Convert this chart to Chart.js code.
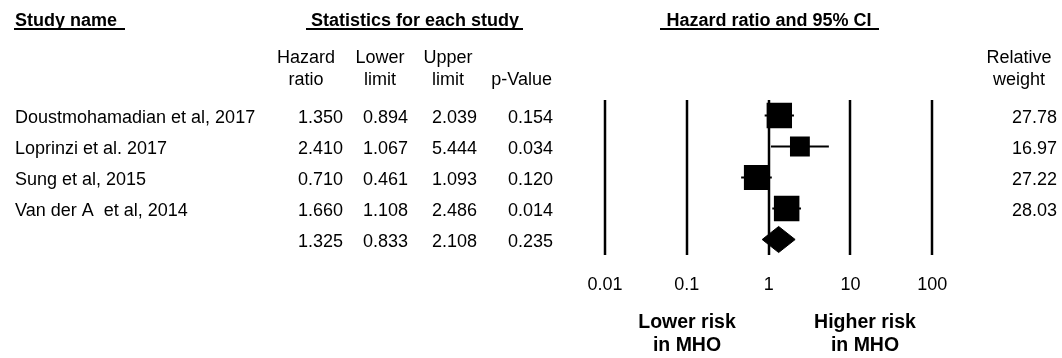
<!DOCTYPE html>
<html>
<head>
<meta charset="utf-8">
<title>Hazard ratio forest plot</title>
<script src="https://cdn.jsdelivr.net/npm/chart.js@4.4.1/dist/chart.umd.min.js"></script>
<style>
  html, body { margin: 0; padding: 0; background: #fff; }
  #forest { display: block; }
</style>
</head>
<body>
<canvas id="forest" width="1062" height="358"></canvas>
<script>
// study level results
const studyNames = [
  'Doustmohamadian et al, 2017',
  'Loprinzi et al. 2017',
  'Sung et al, 2015',
  'Van der A  et al, 2014'
];
const hazardRatio = [1.350, 2.410, 0.710, 1.660];
const lowerLimit = [0.894, 1.067, 0.461, 1.108];
const upperLimit = [2.039, 5.444, 1.093, 2.486];
const pValue = [0.154, 0.034, 0.120, 0.014];
const relativeWeight = [27.78, 16.97, 27.22, 28.03];

// pooled estimate: hazard ratio, lower, upper, p
const pooledStats = [1.325, 0.833, 2.108, 0.235];

const xTicks = [0.01, 0.1, 1, 10, 100];
const xTickLabels = ['0.01', '0.1', '1', '10', '100'];

const FONT = '"Liberation Sans", Arial, Helvetica, sans-serif';
const INK = '#000';
const DIAMOND_HALF = 0.42;          // half height of pooled diamond, in row units
const pooledRow = studyNames.length;

// square side grows with the square root of the weight
function squareRadius(w) {
  const side = 25.5 * Math.sqrt(w / 28);
  return side / Math.SQRT2;
}

const squares = {
  type: 'scatter',
  data: hazardRatio.map((hr, i) => ({ x: hr, y: i })),
  pointStyle: 'rect',
  pointRadius: relativeWeight.map(squareRadius),
  pointBackgroundColor: INK,
  pointBorderWidth: 0,
  order: 0
};

const diamond = {
  type: 'line',
  data: [
    { x: pooledStats[1], y: pooledRow },
    { x: pooledStats[0], y: pooledRow - DIAMOND_HALF },
    { x: pooledStats[2], y: pooledRow },
    { x: pooledStats[0], y: pooledRow + DIAMOND_HALF },
    { x: pooledStats[1], y: pooledRow }
  ],
  borderColor: INK,
  borderWidth: 1,
  backgroundColor: INK,
  fill: 'shape',
  tension: 0,
  pointRadius: 0,
  order: 1
};

const whiskers = studyNames.map((_, i) => ({
  type: 'line',
  data: [{ x: lowerLimit[i], y: i }, { x: upperLimit[i], y: i }],
  borderColor: INK,
  borderWidth: 2,
  pointRadius: 0,
  fill: false,
  order: 2
}));

function put(ctx, str, x, y, align, weight, size) {
  ctx.font = (weight || 'normal') + ' ' + (size || 18) + 'px ' + FONT;
  ctx.textAlign = align || 'left';
  ctx.textBaseline = 'alphabetic';
  ctx.fillStyle = INK;
  ctx.fillText(str, x, y);
}

function rule(ctx, x1, x2, y) {
  ctx.fillStyle = INK;
  ctx.fillRect(x1, y, x2 - x1, 2);
}

const forestFrame = {
  id: 'forestFrame',
  beforeDatasetsDraw(chart) {
    const { ctx, chartArea, scales } = chart;
    ctx.save();
    ctx.strokeStyle = INK;
    ctx.lineWidth = 2.5;
    xTicks.forEach(t => {
      const x = Math.round(scales.x.getPixelForValue(t));
      ctx.beginPath();
      ctx.moveTo(x, chartArea.top);
      ctx.lineTo(x, chartArea.bottom);
      ctx.stroke();
    });
    ctx.restore();
  },
  afterDraw(chart) {
    const { ctx, scales } = chart;
    const xs = scales.x, ys = scales.y;
    ctx.save();

    // column headers
    put(ctx, 'Study name', 15, 26, 'left', 'bold');
    rule(ctx, 14, 125, 28);
    put(ctx, 'Statistics for each study', 415, 26, 'center', 'bold');
    rule(ctx, 306, 523, 28);
    put(ctx, 'Hazard ratio and 95% CI', 769, 26, 'center', 'bold');
    rule(ctx, 660, 879, 28);

    put(ctx, 'Hazard', 306, 63, 'center');
    put(ctx, 'ratio', 306, 85, 'center');
    put(ctx, 'Lower', 380, 63, 'center');
    put(ctx, 'limit', 380, 85, 'center');
    put(ctx, 'Upper', 448, 63, 'center');
    put(ctx, 'limit', 448, 85, 'center');
    put(ctx, 'p-Value', 552, 85, 'right');
    put(ctx, 'Relative', 1019, 63, 'center');
    put(ctx, 'weight', 1019, 85, 'center');

    // table rows
    const colRight = [343, 408, 477, 553];
    studyNames.forEach((name, i) => {
      const y = ys.getPixelForValue(i) + 7.5;
      put(ctx, name, 15, y);
      [hazardRatio[i], lowerLimit[i], upperLimit[i], pValue[i]].forEach((v, c) => {
        put(ctx, v.toFixed(3), colRight[c], y, 'right');
      });
      put(ctx, relativeWeight[i].toFixed(2), 1057, y, 'right');
    });
    const py = ys.getPixelForValue(pooledRow) + 7.5;
    pooledStats.forEach((v, c) => put(ctx, v.toFixed(3), colRight[c], py, 'right'));

    // axis labels
    xTicks.forEach((t, k) => {
      put(ctx, xTickLabels[k], xs.getPixelForValue(t), 290, 'center');
    });
    put(ctx, 'Lower risk', 687, 328, 'center', 'bold', 19.5);
    put(ctx, 'in MHO', 687, 351, 'center', 'bold', 19.5);
    put(ctx, 'Higher risk', 865, 328, 'center', 'bold', 19.5);
    put(ctx, 'in MHO', 865, 351, 'center', 'bold', 19.5);

    ctx.restore();
  }
};

new Chart(document.getElementById('forest'), {
  type: 'scatter',
  data: { datasets: [squares, diamond, ...whiskers] },
  options: {
    responsive: false,
    animation: false,
    events: [],
    layout: { padding: { left: 605, right: 129.7, top: 100, bottom: 103 } },
    scales: {
      x: { type: 'logarithmic', min: 0.01, max: 100, display: false },
      y: { type: 'linear', min: -0.5, max: pooledRow + 0.5, reverse: true, display: false }
    },
    plugins: {
      legend: { display: false },
      tooltip: { enabled: false }
    }
  },
  plugins: [forestFrame]
});
</script>
</body>
</html>
